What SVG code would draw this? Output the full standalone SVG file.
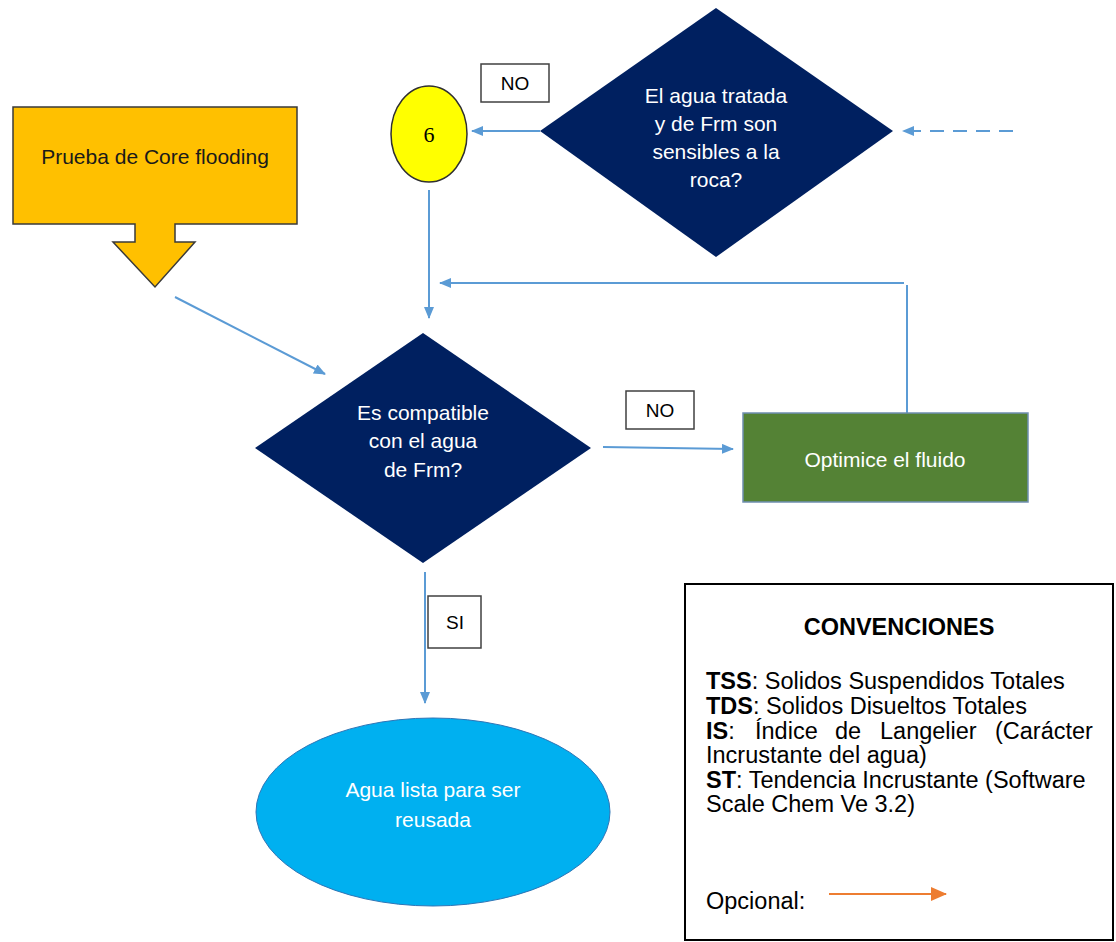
<svg xmlns="http://www.w3.org/2000/svg" width="1116" height="942" viewBox="0 0 1116 942">
  <style>
    .lbl { font-family: "Liberation Sans", Arial, sans-serif; }
    .white { fill: #ffffff; font-size: 21px; text-anchor: middle; }
    .tag rect { fill: #ffffff; stroke: #404040; stroke-width: 1.5; }
    .tag text { fill: #000000; font-size: 19px; text-anchor: middle; }
    .conn { fill: none; stroke: #5b9bd5; stroke-width: 2; }
    .legend { font-size: 23.5px; fill: #000000; }
    .decision { fill: #002060; }
  </style>
  <defs>
    <marker id="arrow" viewBox="0 0 12 10" refX="11" refY="5" markerWidth="12" markerHeight="10" markerUnits="userSpaceOnUse" orient="auto">
      <path d="M0,0 L12,5 L0,10 Z" fill="#5b9bd5"/>
    </marker>
    <marker id="arrow-orange" viewBox="0 0 16 14" refX="15" refY="7" markerWidth="16" markerHeight="14" markerUnits="userSpaceOnUse" orient="auto">
      <path d="M0,0 L16,7 L0,14 Z" fill="#ed7d31"/>
    </marker>
  </defs>

  <rect width="1116" height="942" fill="#ffffff"/>

  <!-- connectors -->
  <g id="connectors">
    <line class="conn" x1="540" y1="131" x2="472" y2="131" marker-end="url(#arrow)"/>
    <line class="conn" x1="1013" y1="131" x2="903" y2="131" stroke-dasharray="14 9" marker-end="url(#arrow)"/>
    <line class="conn" x1="429" y1="190" x2="429" y2="318" marker-end="url(#arrow)"/>
    <line class="conn" x1="907" y1="413" x2="907" y2="285"/>
    <line class="conn" x1="904" y1="283" x2="440" y2="283" marker-end="url(#arrow)"/>
    <line class="conn" x1="175" y1="297" x2="325" y2="374" marker-end="url(#arrow)"/>
    <line class="conn" x1="603" y1="447" x2="733" y2="449" marker-end="url(#arrow)"/>
    <line class="conn" x1="425" y1="572" x2="425" y2="703" marker-end="url(#arrow)"/>
  </g>

  <!-- start: core flooding test callout -->
  <g id="core-flooding">
    <path d="M13,107 H297 V224 H175 V242 H195 L155,287 L113,242 H135 V224 H13 Z" fill="#ffc000" stroke="#3a3a3a" stroke-width="1.5"/>
    <text class="lbl" x="155" y="164" font-size="21" fill="#1a1a1a" text-anchor="middle">Prueba de Core flooding</text>
  </g>

  <!-- connector 6 -->
  <g id="connector-6">
    <ellipse cx="429" cy="134" rx="38" ry="48" fill="#ffff00" stroke="#303030" stroke-width="1.5"/>
    <text x="429" y="142" font-family="'Liberation Serif', 'Times New Roman', serif" font-size="22" text-anchor="middle" fill="#000000">6</text>
  </g>

  <g id="tag-no-top" class="tag">
    <rect x="481" y="64" width="68" height="38"/>
    <text class="lbl" x="515" y="90">NO</text>
  </g>

  <!-- decision: sensitivity to rock -->
  <g id="decision-sensitive">
    <polygon class="decision" points="716,8 893,131 716,257 540,131"/>
    <text class="lbl white" x="716" y="103">El agua tratada</text>
    <text class="lbl white" x="716" y="131">y de Frm son</text>
    <text class="lbl white" x="716" y="159">sensibles a la</text>
    <text class="lbl white" x="716" y="187">roca?</text>
  </g>

  <!-- decision: compatibility -->
  <g id="decision-compatible">
    <polygon class="decision" points="423,333 591,448 423,563 255,448"/>
    <text class="lbl white" x="423" y="420">Es compatible</text>
    <text class="lbl white" x="423" y="448">con el agua</text>
    <text class="lbl white" x="423" y="477">de Frm?</text>
  </g>

  <g id="tag-no-mid" class="tag">
    <rect x="626" y="391" width="68" height="38"/>
    <text class="lbl" x="660" y="417">NO</text>
  </g>

  <!-- process: optimise fluid -->
  <g id="optimize">
    <rect x="743" y="413" width="285" height="89" fill="#548235" stroke="#6f8fb0" stroke-width="1.5"/>
    <text class="lbl white" x="885" y="467">Optimice el fluido</text>
  </g>

  <g id="tag-si" class="tag">
    <rect x="428" y="596" width="53" height="52"/>
    <text class="lbl" x="455" y="629">SI</text>
  </g>

  <!-- end: water ready for reuse -->
  <g id="ready">
    <ellipse cx="433" cy="812" rx="177" ry="94" fill="#00b0f0" stroke="#2e75b6" stroke-width="1"/>
    <text class="lbl white" x="433" y="797">Agua lista para ser</text>
    <text class="lbl white" x="433" y="827">reusada</text>
  </g>

  <!-- legend -->
  <g id="legend">
    <rect x="685" y="584" width="428" height="356" fill="#ffffff" stroke="#000000" stroke-width="2"/>
    <text class="lbl legend" x="899" y="635" font-weight="bold" text-anchor="middle">CONVENCIONES</text>
    <text class="lbl legend" x="706" y="689"><tspan font-weight="bold">TSS</tspan>: Solidos Suspendidos Totales</text>
    <text class="lbl legend" x="706" y="714"><tspan font-weight="bold">TDS</tspan>: Solidos Disueltos Totales</text>
    <text class="lbl legend" y="739"><tspan x="706" font-weight="bold">IS</tspan><tspan>:</tspan><tspan x="755">Índice</tspan><tspan x="835">de</tspan><tspan x="880">Langelier</tspan><tspan x="995">(Carácter</tspan></text>
    <text class="lbl legend" x="706" y="763">Incrustante del agua)</text>
    <text class="lbl legend" x="706" y="788"><tspan font-weight="bold">ST</tspan>: Tendencia Incrustante (Software</text>
    <text class="lbl legend" x="706" y="812">Scale Chem Ve 3.2)</text>
    <text class="lbl legend" x="706" y="909">Opcional:</text>
    <line x1="829" y1="894" x2="946" y2="894" stroke="#ed7d31" stroke-width="2" marker-end="url(#arrow-orange)"/>
  </g>
</svg>
